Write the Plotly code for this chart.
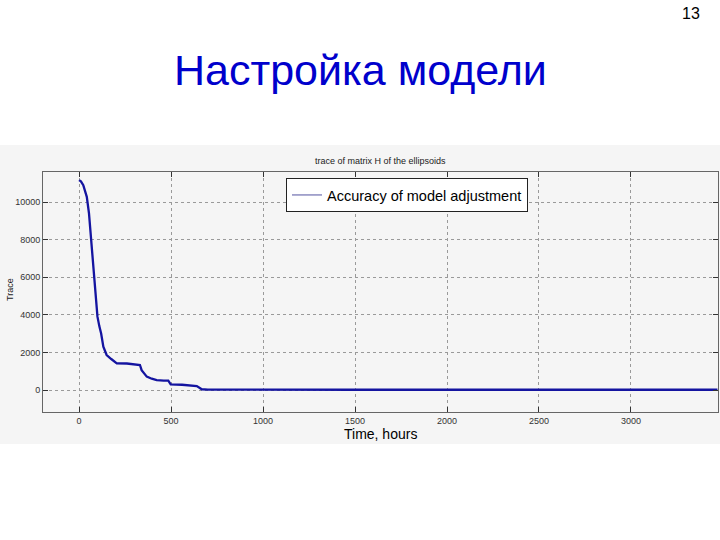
import plotly.graph_objects as go

# Data
time_hours = [0, 10, 23, 35, 42, 54, 65, 74, 83, 87, 92, 100, 110, 120, 132, 150,
              175, 205, 260, 331, 340, 355, 368, 395, 422, 460, 485, 498,
              560, 640, 655, 667, 700, 800, 1500, 2500, 3470]
trace_values = [11170, 11100, 10900, 10550, 10280, 9400, 8150, 6900, 5850, 5300,
                4790, 3900, 3400, 3010, 2300, 1860, 1650, 1420, 1410, 1330, 1060,
                850, 710, 600, 530, 500, 495, 300, 280, 210, 120, 40, 20, 15,
                15, 15, 15]

x_ticks = [0, 500, 1000, 1500, 2000, 2500, 3000]
y_ticks = [0, 2000, 4000, 6000, 8000, 10000]

chart_title = "trace of matrix H of the ellipsoids"
series_name = "Accuracy of model adjustment"
slide_title = "Настройка модели"
page_number = "13"

W, H = 720, 540
L, R, T, B = 43, 2, 172, 128
pw, ph = W - L - R, H - T - B


def px(xp):
    return (xp - L) / pw


def py(yp):
    return (H - B - yp) / ph


fig = go.Figure()
fig.add_trace(go.Scatter(
    x=time_hours, y=trace_values, mode="lines",
    line=dict(color="#1414a0", width=2.3), showlegend=False,
))
# legend-only entry (lighter sample line as in the reference)
fig.add_trace(go.Scatter(
    x=[None], y=[None], mode="lines", name=series_name,
    line=dict(color="#8c8cc0", width=1.5), showlegend=True,
))

axis_common = dict(
    showline=True, linecolor="#666666", linewidth=1, mirror="allticks",
    ticks="inside", ticklen=5, tickcolor="#333333",
    showgrid=True, gridcolor="#9a9a9a", gridwidth=1, griddash="dot",
    zeroline=False, tickfont=dict(family="Arial", size=9, color="#333333"),
)


def note(text, x, y, size, color, **kw):
    d = dict(text=text, xref="paper", yref="paper", x=px(x), y=py(y),
             xanchor="center", yanchor="middle", showarrow=False,
             font=dict(family="Arial", size=size, color=color))
    d.update(kw)
    return d


fig.update_layout(
    width=W, height=H,
    margin=dict(l=L, r=R, t=T, b=B),
    paper_bgcolor="white", plot_bgcolor="white",
    font=dict(family="Arial"),
    xaxis=dict(range=[-196, 3473], tickvals=x_ticks,
               ticktext=[str(v) for v in x_ticks], **axis_common),
    yaxis=dict(range=[-1170, 11600], tickvals=y_ticks,
               ticktext=[str(v) for v in y_ticks], **axis_common),
    legend=dict(x=px(286), y=py(178), xanchor="left", yanchor="top",
                bgcolor="white", bordercolor="#222222", borderwidth=1,
                font=dict(family="Arial", size=14.5, color="black"),
                itemwidth=30, tracegroupgap=0),
    shapes=[dict(type="rect", xref="paper", yref="paper", layer="below",
                 x0=px(0), x1=px(720), y0=py(444), y1=py(145),
                 fillcolor="#f5f5f5", line=dict(width=0))],
    annotations=[
        note(chart_title, 380, 161, 9, "#222222"),
        note("Time, hours", 380, 434, 14, "black"),
        note("Trace", 10, 290, 9, "#222222", textangle=-90),
        note(slide_title, 360, 70, 43, "#0000cc"),
        note(page_number, 702, 14, 16, "black", xanchor="right"),
    ],
)

fig.write_html("out.html", config={"displayModeBar": False},
               post_script="document.body.style.margin='0';")
